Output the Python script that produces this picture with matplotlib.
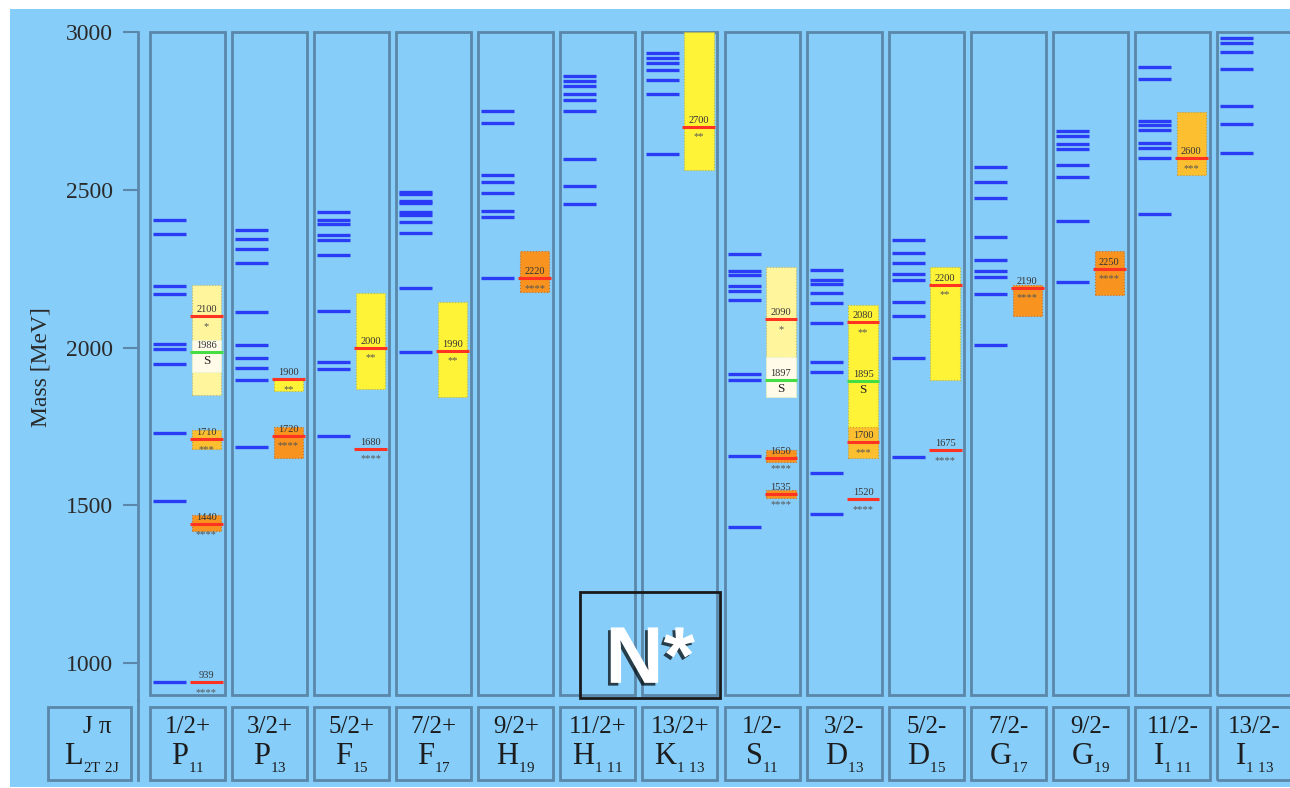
import matplotlib.pyplot as plt
from matplotlib.patches import Rectangle
import matplotlib.patheffects as pe

plt.rcParams['font.family'] = 'Liberation Serif'
plt.rcParams['mathtext.fontset'] = 'custom'
plt.rcParams['mathtext.rm'] = 'Liberation Serif'

# Partial waves (J^pi and L_2T2J)
jpi = ["1/2+", "3/2+", "5/2+", "7/2+", "9/2+", "11/2+", "13/2+",
       "1/2-", "3/2-", "5/2-", "7/2-", "9/2-", "11/2-", "13/2-"]
wave_letter = ["P", "P", "F", "F", "H", "H", "K", "S", "D", "D", "G", "G", "I", "I"]
wave_index = ["11", "13", "15", "17", "19", r"1\ 11", r"1\ 13",
              "11", "13", "15", "17", "19", r"1\ 11", r"1\ 13"]

# Quark model masses (MeV), one list per partial wave
model = [
    [2405, 2359, 2196, 2170, 2013, 1997, 1948, 1728, 1515, 939],
    [2373, 2344, 2312, 2267, 2114, 2008, 1966, 1934, 1897, 1684],
    [2431, 2406, 2392, 2356, 2340, 2294, 2117, 1955, 1931, 1720],
    [2493, 2486, 2466, 2459, 2429, 2422, 2397, 2363, 2188, 1985],
    [2750, 2711, 2546, 2524, 2489, 2433, 2413, 2220],
    [2862, 2846, 2830, 2804, 2786, 2750, 2597, 2514, 2455],
    [2933, 2918, 2903, 2880, 2849, 2804, 2614],
    [2297, 2242, 2229, 2195, 2181, 2151, 1916, 1897, 1656, 1430],
    [2245, 2215, 2203, 2174, 2141, 2077, 1955, 1922, 1602, 1473],
    [2341, 2301, 2269, 2233, 2214, 2144, 2101, 1966, 1652],
    [2574, 2526, 2476, 2352, 2278, 2244, 2224, 2169, 2010],
    [2688, 2670, 2646, 2630, 2578, 2540, 2401, 2209],
    [2891, 2852, 2720, 2705, 2690, 2648, 2634, 2600, 2423],
    [2983, 2966, 2938, 2884, 2766, 2709, 2618],
]

# Observed resonances: wave, mass, mass range, star rating
exp_col = [0, 0, 0, 0, 1, 1, 2, 2, 3, 4, 6, 7, 7, 7, 8, 8, 8, 9, 9, 10, 11, 12]
exp_mass = [939, 1440, 1710, 2100, 1720, 1900, 1680, 2000, 1990, 2220, 2700,
            1535, 1650, 2090, 1520, 1700, 2080, 1675, 2200, 2190, 2250, 2600]
exp_lo = [939, 1420, 1680, 1850, 1650, 1862, 1680, 1868, 1844, 2177, 2563,
          1522, 1638, 1845, 1520, 1650, 1745, 1675, 1897, 2100, 2167, 2548]
exp_hi = [939, 1470, 1740, 2200, 1750, 1905, 1680, 2172, 2146, 2308, 3000,
          1550, 1675, 2257, 1520, 1750, 2135, 1675, 2257, 2200, 2308, 2746]
exp_stars = [4, 4, 3, 1, 4, 2, 4, 2, 2, 4, 2, 4, 4, 1, 4, 3, 2, 4, 2, 4, 4, 3]

# SAPHIR states
saph_col = [0, 7, 8]
saph_mass = [1986, 1897, 1895]
saph_lo = [1924, 1845, 1895]
saph_hi = [2024, 1970, 1895]

bg = '#87cdf9'
edge = '#5a87aa'
blue = '#2a3cf5'
red = '#ff3322'
txt = '#1c1c1c'
star_fill = {4: '#f7931e', 3: '#fcbf2f', 2: '#fff337', 1: '#fff59c'}
star_edge = {4: '#d0701a', 3: '#d09a20', 2: '#c8b830', 1: '#c8b860'}

fig = plt.figure(figsize=(12.9, 7.88), dpi=100, facecolor='white')
fig.patches.append(Rectangle((10 / 1290, 1 / 788), 1 - 10 / 1290, 778 / 788,
                             transform=fig.transFigure, facecolor=bg,
                             edgecolor='none', zorder=-5))

pitch = 82.08
xc0 = 187.5
half = 37.5 / pitch
xmax = (1290 - xc0) / pitch

ax = fig.add_axes([138 / 1290, 1 - 700.9 / 788, 1152 / 1290, 668.6 / 788])
ax.set_xlim((138 - xc0) / pitch, xmax)
ax.set_ylim(880, 3000)
ax.patch.set_visible(False)
for s in ['top', 'right', 'bottom']:
    ax.spines[s].set_visible(False)
ax.spines['left'].set_color(edge)
ax.spines['left'].set_linewidth(2)
ax.set_xticks([])
ax.set_yticks([1000, 1500, 2000, 2500, 3000])
ax.tick_params(axis='y', length=11, width=1.5, color=edge, pad=7,
               labelsize=17, labelcolor='#2a2a2a')
ax.set_ylabel('Mass [MeV]', fontsize=17, color='#2a2a2a', labelpad=10)

for i in range(len(jpi)):
    ax.add_patch(Rectangle((i - half, 899), 2 * half, 3000 - 899, fill=False,
                           edgecolor=edge, lw=2, clip_on=False, zorder=1))
    ax.hlines(model[i], i - 0.42, i - 0.018, color=blue, lw=2.4, zorder=3)

# boxes drawn widest first so narrow ones stay on top
order = sorted(range(len(exp_col)), key=lambda k: -(exp_hi[k] - exp_lo[k]))
for k in order:
    i, m, st = exp_col[k], exp_mass[k], exp_stars[k]
    if exp_hi[k] > exp_lo[k]:
        ax.bar(i + 0.23, exp_hi[k] - exp_lo[k], bottom=exp_lo[k], width=0.357,
               color=star_fill[st], edgecolor=star_edge[st], linestyle=':',
               lw=0.8, zorder=2)
for k in range(len(exp_col)):
    i, m, st = exp_col[k], exp_mass[k], exp_stars[k]
    ax.hlines(m, i + 0.03, i + 0.43, color=red, lw=2.2, zorder=4)
    ax.annotate(str(m), (i + 0.23, m), xytext=(0, 1.5), textcoords='offset points',
                ha='center', va='bottom', fontsize=7.5, color='#333333', zorder=5)
    ax.annotate('*' * st, (i + 0.23, m), xytext=(0, -4), textcoords='offset points',
                ha='center', va='top', fontsize=7.5, color='#555555', zorder=5)

for k in range(len(saph_col)):
    i, m = saph_col[k], saph_mass[k]
    if saph_hi[k] > saph_lo[k]:
        ax.bar(i + 0.23, saph_hi[k] - saph_lo[k], bottom=saph_lo[k], width=0.357,
               color='#fffbe8', edgecolor='#d8f0d8', linestyle=':', lw=0.8, zorder=3)
    ax.hlines(m, i + 0.03, i + 0.43, color='#44dd44', lw=2.2, zorder=4)
    ax.annotate(str(m), (i + 0.23, m), xytext=(0, 1.5), textcoords='offset points',
                ha='center', va='bottom', fontsize=7.5, color='#333333', zorder=5)
    ax.annotate('S', (i + 0.23, m), xytext=(0, -2), textcoords='offset points',
                ha='center', va='top', fontsize=9.5, color='#222222', zorder=5)

# N* tag
ax.add_patch(Rectangle((0.3837, 0.0045), 0.1215, 0.159, transform=ax.transAxes,
                       fill=False, edgecolor='#1a1a1a', lw=2, clip_on=False, zorder=6))
ax.text(0.4445, 0.027, 'N*', transform=ax.transAxes, ha='center', va='baseline',
        fontsize=58, fontweight='bold', family='Liberation Sans', color='white',
        zorder=7, path_effects=[pe.withSimplePatchShadow(offset=(-2, -2),
                                                         shadow_rgbFace='black',
                                                         alpha=0.7)])

# Quantum number row
lab = fig.add_axes([0, 1 - 780 / 788, 1, 73 / 788])
lab.set_xlim(-xc0 / pitch, xmax)
lab.set_ylim(0, 1)
lab.axis('off')
lab.axvline((138 - xc0) / pitch, 0, 1.09, color=edge, lw=2, clip_on=False)

hl = 41.5 / pitch
lab.add_patch(Rectangle((-1.194 - hl, 0), 2 * hl, 1, fill=False, edgecolor=edge,
                        lw=2, clip_on=False))
lab.text(-1.096, 0.72, 'J π', ha='center', va='center', fontsize=18, color=txt)
lab.text(-1.17, 0.3, r'$\mathrm{L}_{{}_{\mathrm{2T\ 2J}}}$', ha='center', va='center',
         fontsize=22, color=txt)
for i in range(len(jpi)):
    lab.add_patch(Rectangle((i - half, 0), 2 * half, 1, fill=False, edgecolor=edge,
                            lw=2, clip_on=False))
    lab.text(i, 0.72, jpi[i], ha='center', va='center', fontsize=18, color=txt)
    lab.text(i, 0.3, r'$\mathrm{%s}_{{}_{\mathrm{%s}}}$' % (wave_letter[i], wave_index[i]),
             ha='center', va='center', fontsize=22, color=txt)

fig.savefig('out.png', dpi=100)
